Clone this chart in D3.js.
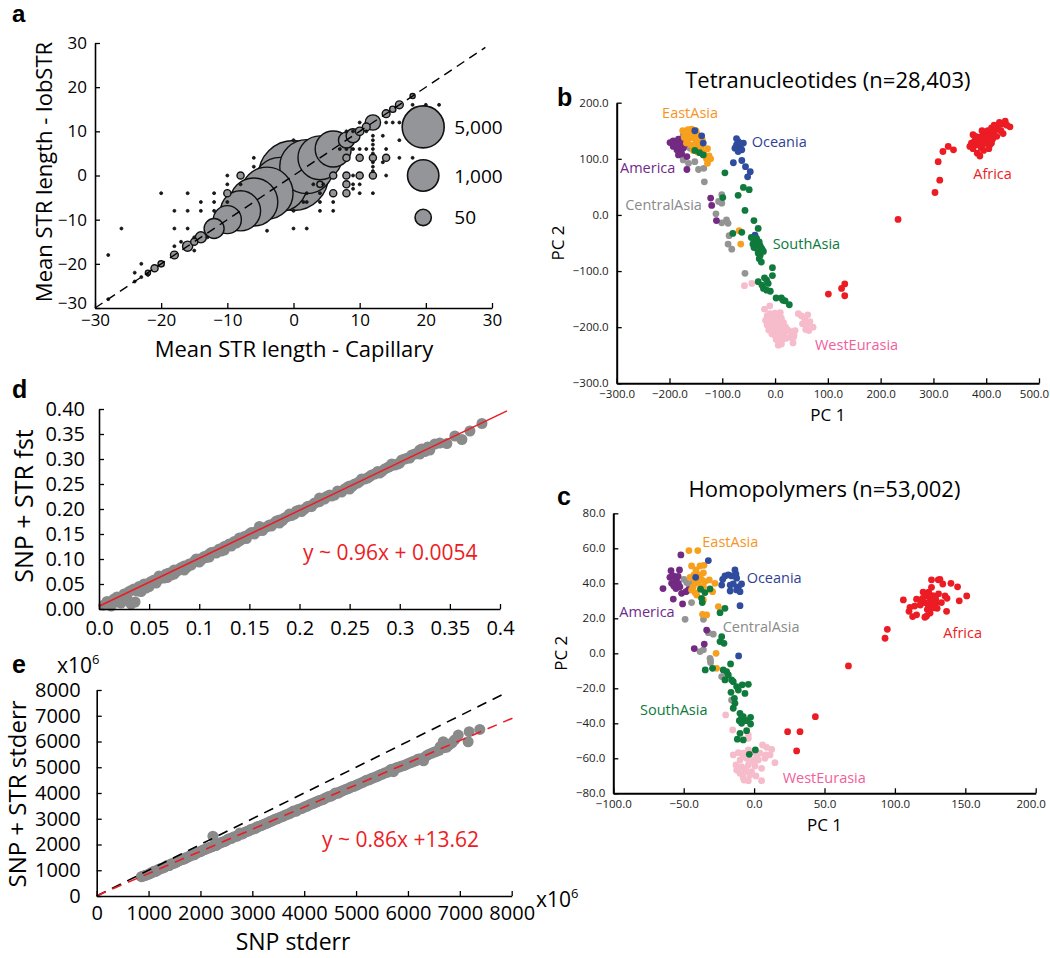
<!DOCTYPE html>
<html><head><meta charset="utf-8">
<script src="https://cdn.jsdelivr.net/npm/d3@7"></script>
<style>body{margin:0;background:#fff}svg{display:block}</style>
</head><body><svg id="chart" width="1050" height="958"></svg>
<script>
// ---------------- DATA ----------------
// Panel a: [capillary mean, lobSTR mean, count]
const aDiagonal = [[-28,-28,1],[-24,-24,1],[-23,-23,1],[-22,-22,2],[-21,-21,4],[-20,-20,3],[-18,-18,5],[-16,-16,10],[-15,-15,4],[-14,-14,13],[-12,-12,117],[-10,-10,560],[-8,-8,3800],[-6,-6,11000],[-4,-4,17900],[-2,-2,22500],[0,0,118000],[2,2,22500],[4,4,6500],[6,6,2100],[8,8,47],[9,9,28],[10,10,6],[11,11,5],[12,12,40],[14,14,5],[15,15,3],[16,16,5],[18,18,2]];
const aSmall = [[-10,-4,4],[-8,0,4],[6,0,4],[6,-4,4],[8,0,4],[8,4,4],[8,-2,4],[8,-4,4],[10,4,4],[10,0,4],[12,0,4],[12,4,4],[14,4,4],[4,-2,3]];
const aDots = [[-28,-18],[-26,-12],[-24,-22],[-20,-4],[-18,-8],[-18,-12],[-18,-16],[-16,-4],[-16,-8],[-16,-12],[-14,-6],[-14,-8],[-12,-4],[-12,-6],[-12,-8],[-10,0],[-10,-2],[-10,-6],[-8,-2],[-6,4],[-6,2],[-4,-12.5],[0,-12],[2,-12],[0,-8],[2,-4],[2,-6],[4,-6],[4,-8],[6,-8],[6,-6],[4.5,-2],[3,-2],[4,-4],[1.5,-6],[0,8],[7,6],[8,10],[8,6],[9,-2],[9,0],[9,6],[9,-3],[10,-2],[10,-4],[10,6],[11,10],[11,6],[12,-4],[12,9],[12,8],[12,7],[12,6],[12,5],[12,3],[12,2],[12,1],[14,6],[14,12],[14,0],[13.5,3],[13.5,9],[16,12],[16,8],[16,4],[18,16],[18,12],[18,8],[18,4],[20,16],[22,16],[15,12],[10,12],[9,10],[-23,-20],[-22,-22.5],[-17,-15],[-15,-17],[-13,-14],[-15,-14]];
const aTicks = [-30,-20,-10,0,10,20,30];
const aLegend = [5000,1000,50];

// Panel b (Tetranucleotides) PCA points [PC1, PC2]
const bWestEurasia = [[-58,-126],[-44,-122],[-20,-168],[-10,-162],[-15,-180],[-10,-176],[-5,-180],[0,-175],[5,-178],[10,-174],[-18,-188],[-12,-186],[-6,-190],[0,-186],[6,-188],[12,-184],[-15,-196],[-8,-198],[-2,-194],[4,-197],[10,-195],[16,-192],[-12,-205],[-5,-204],[2,-207],[8,-203],[14,-206],[20,-200],[-6,-212],[0,-215],[6,-212],[12,-216],[18,-210],[24,-205],[2,-222],[8,-225],[14,-222],[20,-220],[6,-232],[12,-230],[30,-208],[36,-215],[28,-218],[34,-228],[44,-176],[50,-180],[56,-185],[62,-178],[66,-190],[60,-196],[52,-194],[58,-204],[64,-206],[72,-200],[38,-206],[35,-218]];
const bCentralAsia = [[-174,142],[-167,122],[-174,98],[-164,92],[-152,95],[-145,81],[-135,83],[-134,59],[-101,36],[-107,24],[-101,21],[-112,2],[-101,-14],[-92,-9],[-89,-15],[-87,-37],[-89,-52],[-82,-61],[-57,-104],[-161,119]];
const bAmerica = [[-199,129],[-193,132],[-186,131],[-183,135],[-193,122],[-186,116],[-180,113],[-177,109],[-174,119],[-171,125],[-167,104],[-180,122],[-183,107],[-190,126],[-175,130],[-167,81],[-122,30],[-120,17],[-111,-10]];
const bEastAsia = [[-175,150],[-170,145],[-165,152],[-160,148],[-155,143],[-150,150],[-172,138],[-165,135],[-158,138],[-150,132],[-145,140],[-168,128],[-160,125],[-152,122],[-143,128],[-140,120],[-155,115],[-147,112],[-135,110],[-128,118],[-125,105],[-130,100],[-122,100],[-128,92],[-162,142],[-148,145],[-138,135],[-158,153],[-68,-28],[-65,-52]];
const bOceania = [[-73,136],[-70,131],[-73,125],[-66,122],[-63,116],[-76,119],[-70,113],[-60,128],[-66,128],[-79,93],[-63,97],[-56,86],[-47,77],[-52,68],[-152,150],[-139,141],[-136,128],[-38,-36]];
const bSouthAsia = [[-152,115],[-143,111],[-136,107],[-95,75],[-99,31],[-70,35],[-60,49],[-49,45],[-57,8],[-40,-10],[-32,-24],[-63,-31],[-80,-33],[-45,-40],[-40,-45],[-35,-42],[-30,-48],[-42,-52],[-38,-55],[-33,-50],[-28,-55],[-35,-60],[-30,-63],[-25,-60],[-32,-68],[-28,-72],[-30,-78],[-26,-84],[-22,-65],[-40,-58],[-5,-94],[-5,-108],[-32,-119],[-16,-116],[-13,-122],[-22,-131],[-16,-134],[-9,-136],[-20,-112],[-25,-125],[2,-148],[12,-148],[19,-153],[27,-160],[15,-152]];
const bAfrica = [[233,-8],[303,40],[312,62],[309,95],[318,113],[328,122],[338,116],[101,-141],[126,-131],[132,-123],[132,-144],[369,122],[372,128],[375,118],[378,132],[382,125],[385,138],[388,130],[390,120],[392,140],[394,126],[396,134],[398,145],[400,128],[401,138],[403,150],[405,132],[407,125],[409,142],[410,155],[412,135],[413,147],[415,160],[418,152],[420,140],[422,158],[425,165],[428,150],[430,162],[432,145],[436,167],[439,160],[445,157],[383,110],[388,105],[395,115],[380,140],[375,143],[392,150],[405,118],[410,128]];
const bTicksX = [-300,-200,-100,0,100,200,300,400,500];
const bTicksY = [-300,-200,-100,0,100,200];

// Panel c (Homopolymers) PCA points [PC1, PC2]
const cWestEurasia = [[-20.2,-35.2],[-15.2,-43.8],[-4.1,-46.7],[-4.1,-48.6],[-11.2,-56.8],[-7.7,-57.1],[-4.1,-55.2],[-0.6,-56.2],[4.2,-57.1],[6,-52.4],[8.9,-53.7],[12.5,-54.9],[14.8,-62.5],[11.3,-58.1],[7.7,-60],[3,-61],[-0.6,-61],[-5.3,-60],[-10,-61],[-12.9,-63.8],[-8.9,-64.8],[-4.1,-63.8],[0.6,-64.4],[5.3,-65.7],[-6.5,-67.6],[-1.8,-67.6],[-10,-68.6],[-7.7,-70.9],[-4.1,-72.8],[1.3,-70.1],[5.3,-72.8],[-2.9,-69.5],[-7.2,-72.4],[-12.4,-66.7],[1.8,-58.7],[-14.8,-58.1],[8.4,-58.1],[-8,-59],[-3,-62],[-6,-66]];
const cCentralAsia = [[-49.8,42.3],[-47.9,40.4],[-45,38],[-43.2,41],[-49,19.4],[-44.4,29],[-36,19.4],[-32.5,11.8],[-29,10.9],[-38.4,1],[-36,2],[-31.3,-2.9],[-30.9,-5.3],[-23,-13.3],[-16,-26.7],[-46,39],[-31,-4]];
const cAmerica = [[-52,56.2],[-59,47.2],[-53,47.6],[-59.8,43.4],[-57.4,44.2],[-55,42.9],[-56.2,41],[-58.6,40],[-53.8,40],[-52.7,38],[-55.5,37],[-64.7,37],[-51.5,34.3],[-48.4,35.2],[-57.4,31],[-50.8,28.2],[-46.7,36.2],[-33.7,13.3],[-42.5,2.7],[-35.4,5.3],[-57,38.5],[-54,44]];
const cEastAsia = [[-46.3,58.7],[-40,58.7],[-44.4,49.9],[-41.3,47.6],[-38.4,49.9],[-35.6,50.3],[-42.7,44.8],[-38.9,44.8],[-36,46],[-45.5,43.4],[-37.3,42.3],[-39.6,40],[-43.2,38],[-34.9,41],[-31.8,41.9],[-27.8,40],[-42,34.7],[-29.5,35.2],[-36,30.5],[-25.4,26.7],[-36.6,22.3],[-33.7,21.9],[-27,0],[-26.6,-8.6],[-44.4,36.2],[-40.8,33.3],[-40,43],[-38,37],[-42,41],[-36,38]];
const cOceania = [[-22.3,42.3],[-20.7,44.2],[-18.3,44.8],[-16,44.2],[-13.6,47.6],[-12.9,45.3],[-12.4,42.9],[-23,39],[-17,39],[-14.8,39.6],[-11.2,38],[-8.9,39.6],[-12.4,36.2],[-17,35.6],[-10,35.2],[-10,27.2],[-32.5,53],[-41.5,43.4],[-11,-1.5]];
const cSouthAsia = [[-38,36.6],[-34.9,34.7],[-31.3,36.8],[-37.3,31.4],[-36.8,29],[-24.2,23.2],[-20.7,25.7],[-23,9.5],[-24.2,6.7],[-21.4,5.7],[-34.7,-9.5],[-29.5,-8.6],[-16.7,-6.1],[-21.9,-9.5],[-19.5,-10.5],[-18.3,-12.4],[-20.7,-15.2],[-16,-15.2],[-14.8,-16.2],[-12.4,-19],[-4.1,-17.7],[-8.4,-18],[-16.4,-22.3],[-11.2,-21],[-6.5,-22.9],[-14,-25.7],[-13.6,-28.6],[-14.8,-31.4],[-10,-34.3],[-7.7,-36.2],[-10.5,-38.5],[-2.5,-36.6],[-5.3,-38.5],[-8.9,-40],[-2.5,-40.4],[-10,-45.7],[-5.3,-44.2],[-11.9,-49.1],[-7.7,-49.5],[0.9,-55.2],[-3.4,-57.7],[-9,-37]];
const cAfrica = [[106,30.5],[110,24],[112.6,21],[114,27],[115.4,22],[118,27.6],[119.7,31.4],[121,29],[122.5,32.8],[123,25],[123.7,27.6],[125,30.9],[126,42],[126,37.7],[126.8,29.5],[127,27],[128.5,32.4],[129,28.6],[130,25.7],[130.8,42],[132,42.3],[134,39.6],[135.6,32.8],[136.7,24],[137,31.4],[139.8,40],[144.5,38],[145.7,30],[151,32.8],[115.4,30.9],[118.9,30.5],[122.5,21.3],[124.4,24.8],[121.3,20.6],[110.7,26.3],[127,33],[124,35],[129,31],[131,34],[120,35],[133,29],[128,26],[125,23],[94.6,13.7],[93,8.6],[67,-7.2],[23.8,-44.8],[32.6,-44.8],[43.5,-36.2],[30.2,-55.8]];
const cTicksX = [-100,-50,0,50,100,150,200];
const cTicksY = [-80,-60,-40,-20,0,20,40,60,80];

// Region names, colours and label anchors (PC1, PC2 of label start)
const regions = ["WestEurasia","CentralAsia","America","EastAsia","Oceania","SouthAsia","Africa"];
const pointColors = ["#f6bccb","#949494","#732a83","#f6a01e","#2f4c9e","#107a3c","#ec1c24"];
const labelColors = ["#f0609a","#8a8a8a","#6f2a8a","#f7941d","#2e3f96","#0b7a3c","#ec1c24"];
const bLabelPos = [[75.6,-240.7],[-284,8.7],[-293.7,74],[-214,172.6],[-44.3,121.4],[-4.5,-61.3],[375.4,63.4]];
const cLabelPos = [[20.3,-74.3],[-22.3,12],[-95.7,20.9],[-36.8,60.6],[-5.3,40.3],[-81,-35.3],[134.4,8.6]];

// Panel d: [SNP fst, SNP+STR fst]
const dPoints = [[0.005,0.008],[0.008,0.015],[0.01,0.012],[0.012,0.006],[0.013,0.016],[0.015,0.02],[0.018,0.014],[0.018,0.024],[0.02,0.022],[0.022,0.012],[0.024,0.02],[0.025,0.03],[0.027,0.03],[0.028,0.02],[0.03,0.035],[0.032,0.01],[0.033,0.038],[0.036,0.014],[0.035,0.04],[0.038,0.036],[0.04,0.045],[0.042,0.035],[0.043,0.044],[0.045,0.05],[0.047,0.042],[0.05,0.052],[0.05,0.045],[0.052,0.055],[0.055,0.058],[0.057,0.052],[0.06,0.06],[0.06,0.066],[0.062,0.064],[0.065,0.062],[0.067,0.07],[0.068,0.063],[0.07,0.072],[0.072,0.068],[0.075,0.07],[0.075,0.078],[0.078,0.076],[0.08,0.08],[0.082,0.083],[0.085,0.086],[0.085,0.078],[0.088,0.084],[0.09,0.09],[0.092,0.088],[0.095,0.095],[0.097,0.1],[0.1,0.1],[0.1,0.094],[0.102,0.098],[0.105,0.105],[0.107,0.103],[0.11,0.11],[0.11,0.104],[0.112,0.113],[0.115,0.114],[0.117,0.112],[0.12,0.12],[0.122,0.116],[0.125,0.125],[0.125,0.118],[0.128,0.127],[0.13,0.13],[0.132,0.126],[0.135,0.135],[0.137,0.132],[0.14,0.136],[0.14,0.142],[0.142,0.139],[0.145,0.145],[0.147,0.141],[0.15,0.15],[0.152,0.153],[0.155,0.15],[0.157,0.155],[0.16,0.158],[0.16,0.165],[0.163,0.157],[0.165,0.162],[0.168,0.165],[0.17,0.168],[0.172,0.166],[0.175,0.172],[0.177,0.176],[0.18,0.178],[0.18,0.172],[0.183,0.177],[0.185,0.182],[0.188,0.185],[0.19,0.19],[0.192,0.187],[0.195,0.19],[0.197,0.196],[0.2,0.198],[0.202,0.195],[0.205,0.2],[0.208,0.205],[0.21,0.206],[0.212,0.205],[0.215,0.212],[0.218,0.214],[0.22,0.215],[0.22,0.222],[0.225,0.22],[0.227,0.225],[0.23,0.228],[0.232,0.226],[0.235,0.228],[0.238,0.236],[0.24,0.235],[0.242,0.234],[0.245,0.24],[0.248,0.244],[0.25,0.246],[0.25,0.24],[0.253,0.246],[0.255,0.25],[0.258,0.252],[0.26,0.255],[0.262,0.26],[0.265,0.26],[0.268,0.262],[0.27,0.265],[0.272,0.268],[0.275,0.27],[0.278,0.275],[0.28,0.272],[0.282,0.275],[0.285,0.28],[0.288,0.283],[0.29,0.285],[0.292,0.29],[0.295,0.288],[0.298,0.29],[0.3,0.292],[0.302,0.298],[0.305,0.3],[0.308,0.302],[0.31,0.302],[0.312,0.308],[0.315,0.31],[0.318,0.312],[0.32,0.31],[0.32,0.318],[0.322,0.32],[0.325,0.315],[0.328,0.324],[0.33,0.318],[0.335,0.33],[0.34,0.332],[0.347,0.331],[0.355,0.346],[0.362,0.339],[0.37,0.356],[0.382,0.371]];
const dFit = [0.96, 0.0054];
const dTicksX = [0,0.05,0.1,0.15,0.2,0.25,0.3,0.35,0.4];
const dTickLabelsX = ["0.0","0.05","0.1","0.15","0.2","0.25","0.3","0.35","0.4"];
const dTicksY = [0,0.05,0.1,0.15,0.2,0.25,0.3,0.35,0.4];

// Panel e: [SNP stderr, SNP+STR stderr] (x10^6)
const ePoints = [[860,750],[890,770],[920,790],[950,810],[980,830],[1020,860],[1050,900],[1080,920],[1100,960],[1130,950],[1150,980],[1180,1010],[1200,1040],[1230,1060],[1260,1080],[1290,1100],[1320,1130],[1350,1170],[1380,1190],[1400,1180],[1410,1210],[1440,1250],[1470,1260],[1500,1280],[1530,1310],[1560,1350],[1590,1370],[1620,1400],[1650,1420],[1680,1430],[1700,1480],[1710,1460],[1740,1500],[1770,1520],[1800,1560],[1830,1580],[1850,1640],[1880,1600],[1900,1640],[1930,1680],[1960,1700],[1990,1720],[2020,1740],[2050,1790],[2080,1800],[2110,1830],[2140,1850],[2170,1880],[2200,1900],[2230,1920],[2240,2320],[2260,1960],[2290,1990],[2300,1960],[2320,2000],[2350,2020],[2380,2060],[2410,2090],[2440,2100],[2470,2120],[2500,2160],[2530,2200],[2560,2220],[2590,2230],[2620,2270],[2650,2300],[2700,2320],[2730,2360],[2760,2450],[2790,2400],[2820,2420],[2850,2470],[2880,2500],[2910,2510],[2940,2540],[2970,2580],[3000,2600],[3030,2610],[3060,2630],[3090,2680],[3120,2700],[3150,2720],[3180,2740],[3210,2770],[3240,2800],[3270,2820],[3300,2840],[3330,2880],[3360,2900],[3390,2930],[3420,2960],[3450,2990],[3480,3000],[3510,3030],[3540,3060],[3570,3080],[3600,3100],[3630,3140],[3660,3160],[3690,3180],[3720,3200],[3750,3240],[3790,3300],[3820,3290],[3850,3300],[3880,3360],[3920,3380],[3950,3400],[3980,3420],[4010,3470],[4050,3480],[4080,3520],[4120,3560],[4150,3580],[4180,3600],[4210,3640],[4250,3660],[4280,3700],[4320,3720],[4350,3740],[4380,3760],[4410,3810],[4450,3840],[4480,3860],[4520,3880],[4560,3930],[4600,4000],[4630,3990],[4660,4000],[4690,4050],[4720,4060],[4760,4110],[4800,4140],[4830,4160],[4860,4180],[4900,4230],[4940,4250],[4970,4270],[5000,4300],[5040,4340],[5080,4370],[5110,4400],[5140,4420],[5170,4460],[5200,4500],[5230,4500],[5260,4520],[5290,4560],[5320,4580],[5360,4610],[5400,4640],[5430,4670],[5460,4700],[5490,4730],[5520,4740],[5560,4790],[5600,4800],[5630,4840],[5660,4900],[5690,4920],[5720,4830],[5750,4950],[5780,4980],[5810,5000],[5850,5020],[5880,5050],[5920,5060],[5960,5100],[6000,5140],[6040,5170],[6080,5200],[6110,5230],[6150,5250],[6180,5290],[6200,5320],[6250,5330],[6300,5350],[6300,5250],[6330,5400],[6360,5450],[6400,5500],[6450,5540],[6500,5580],[6550,5620],[6600,5660],[6620,5800],[6680,5990],[6700,5760],[6750,5780],[6800,5880],[6850,5950],[6900,6060],[6970,6250],[7160,5990],[7180,6380],[7385,6470]];
const eFit = [0.86, 13.62];
const eTicks = [0,1000,2000,3000,4000,5000,6000,7000,8000];

// ---------------- DRAW ----------------
const F = '"Open Sans", "Noto Sans", sans-serif';
const FB = '"Liberation Sans", Arial, sans-serif';
const svg = d3.select("#chart");

function styleAxis(g, fs, col) {
  g.select("path.domain").attr("stroke", "#000").attr("stroke-width", 1.6);
  g.selectAll(".tick line").attr("stroke", "#000").attr("stroke-width", 1.3);
  g.selectAll(".tick text").attr("font-family", F).attr("font-size", fs).attr("fill", col || "#000");
}
function txt(x, y, s, fs, opts = {}) {
  const t = svg.append("text").attr("x", x).attr("y", y).text(s)
    .attr("font-family", opts.bold ? FB : F).attr("font-size", fs)
    .attr("font-weight", opts.bold ? "bold" : "normal")
    .attr("fill", opts.color || "#000").attr("text-anchor", opts.anchor || "start");
  if (opts.rotate) t.attr("transform", `rotate(-90,${x},${y})`);
  return t;
}

// ===== Panel a =====
const xA = d3.scaleLinear().domain([-30, 30]).range([95, 492]);
const yA = d3.scaleLinear().domain([-30, 30]).range([308, 43]);
const rA = d3.scalePow().exponent(0.12).domain([1, 5000]).range([1.6, 21]);
const gA = svg.append("g");
const allA = aDiagonal.concat(aSmall).concat(aDots.map(d => [d[0], d[1], 1]))
  .sort((p, q) => q[2] - p[2]);
gA.selectAll("circle.b").data(allA).join("circle")
  .attr("cx", d => xA(d[0])).attr("cy", d => yA(d[1])).attr("r", d => d[2] > 1 ? rA(d[2]) : 1.5)
  .attr("fill", d => d[2] > 1 ? "#939598" : "#1a1a1a").attr("stroke", "#111")
  .attr("stroke-width", d => d[2] > 1 ? 1.4 : 0.8);
gA.append("line").attr("x1", xA(-30)).attr("y1", yA(-30)).attr("x2", xA(29)).attr("y2", yA(29))
  .attr("stroke", "#000").attr("stroke-width", 1.4).attr("stroke-dasharray", "9,6");
const axAx = svg.append("g").attr("transform", `translate(0,${yA(-30)})`)
  .call(d3.axisBottom(xA).tickValues(aTicks).tickSizeInner(-5).tickSizeOuter(0).tickPadding(6));
styleAxis(axAx, 17);
const axAy = svg.append("g").attr("transform", `translate(${xA(-30)},0)`)
  .call(d3.axisLeft(yA).tickValues(aTicks).tickSizeInner(-5).tickSizeOuter(0).tickPadding(8));
styleAxis(axAy, 17);
// lift the bottom y label slightly so it does not collide with the x label at the corner
axAy.selectAll(".tick text").filter(d => d === -30).attr("dy", "0.05em");
// legend
const legY = [11, 0, -9.5];
aLegend.forEach((n, i) => {
  const cx = xA(19.6), cy = yA(legY[i]);
  svg.append("circle").attr("cx", cx).attr("cy", cy).attr("r", rA(n))
    .attr("fill", "#939598").attr("stroke", "#111").attr("stroke-width", 1.6);
  txt(xA(24.3), cy + 7, d3.format(",")(n), 19);
});
txt(294, 357, "Mean STR length - Capillary", 22, { anchor: "middle" });
txt(52, 172, "Mean STR length - lobSTR", 22, { anchor: "middle", rotate: true });
txt(12, 22, "a", 24, { bold: true });

// ===== PCA panels =====
function pcaPanel(opt) {
  const { x, y, data, ticksX, ticksY, labels, title, titleY, letterY, pc2 } = opt;
  const g = svg.append("g");
  const axX = svg.append("g").attr("transform", `translate(0,${y.range()[0]})`)
    .call(d3.axisBottom(x).tickValues(ticksX).tickFormat(d3.format(".1f")).tickSizeInner(-5).tickSizeOuter(0).tickPadding(7));
  styleAxis(axX, 11.5, "#222");
  axX.select("path.domain").attr("stroke-width", 2);
  axX.selectAll(".tick text").filter((d, i, n) => i === n.length - 1).attr("dx", -5);
  const axY = svg.append("g").attr("transform", `translate(${x.range()[0]},0)`)
    .call(d3.axisLeft(y).tickValues(ticksY).tickFormat(d3.format(".1f")).tickSizeInner(-5).tickSizeOuter(0).tickPadding(8));
  styleAxis(axY, 11.5, "#222");
  axY.select("path.domain").attr("stroke-width", 2);
  data.forEach((pts, i) => {
    g.selectAll(null).data(pts).join("circle")
      .attr("cx", d => x(d[0])).attr("cy", d => y(d[1])).attr("r", 3.4)
      .attr("fill", pointColors[i]);
  });
  regions.forEach((r, i) => {
    txt(x(labels[i][0]), y(labels[i][1]), r, 14.5, { color: labelColors[i] });
  });
  const cx = (x.range()[0] + x.range()[1]) / 2, cy = (y.range()[0] + y.range()[1]) / 2;
  txt(cx, y.range()[0] + 38, "PC 1", 17, { anchor: "middle" });
  txt(x.range()[0] - pc2, cy, "PC 2", 17, { anchor: "middle", rotate: true });
  txt(cx, titleY, title, 22, { anchor: "middle" });
  txt(557, letterY, opt.letter, 25, { bold: true });
}
pcaPanel({
  x: d3.scaleLinear().domain([-300, 500]).range([616.7, 1039]),
  y: d3.scaleLinear().domain([-300, 200]).range([383.3, 102.7]),
  data: [bWestEurasia, bCentralAsia, bAmerica, bEastAsia, bOceania, bSouthAsia, bAfrica],
  ticksX: bTicksX, ticksY: bTicksY, labels: bLabelPos, pc2: 53,
  title: "Tetranucleotides (n=28,403)", titleY: 88, letter: "b", letterY: 106
});
pcaPanel({
  x: d3.scaleLinear().domain([-100, 200]).range([613.3, 1035.7]),
  y: d3.scaleLinear().domain([-80, 80]).range([793.3, 513.3]),
  data: [cWestEurasia, cCentralAsia, cAmerica, cEastAsia, cOceania, cSouthAsia, cAfrica],
  ticksX: cTicksX, ticksY: cTicksY, labels: cLabelPos, pc2: 46,
  title: "Homopolymers (n=53,002)", titleY: 497, letter: "c", letterY: 505
});

// ===== Panel d =====
const xD = d3.scaleLinear().domain([0, 0.4]).range([99, 500]);
const yD = d3.scaleLinear().domain([0, 0.4]).range([609, 409]);
svg.append("g").selectAll("circle").data(dPoints).join("circle")
  .attr("cx", d => xD(d[0])).attr("cy", d => yD(d[1])).attr("r", 5.5).attr("fill", "#8a8a8a");
svg.append("line").attr("x1", xD(0)).attr("y1", yD(dFit[1]))
  .attr("x2", xD(0.407)).attr("y2", yD(dFit[0] * 0.407 + dFit[1]))
  .attr("stroke", "#ec1c24").attr("stroke-width", 1.5);
const axDx = svg.append("g").attr("transform", `translate(0,${yD(0)})`)
  .call(d3.axisBottom(xD).tickValues(dTicksX).tickFormat((d, i) => dTickLabelsX[i]).tickSizeInner(-5).tickSizeOuter(0).tickPadding(12));
styleAxis(axDx, 20);
const axDy = svg.append("g").attr("transform", `translate(${xD(0)},0)`)
  .call(d3.axisLeft(yD).tickValues(dTicksY).tickFormat(d3.format(".2f")).tickSizeInner(-5).tickSizeOuter(0).tickPadding(14));
styleAxis(axDy, 20);
txt(303, 560, "y ~ 0.96x + 0.0054", 21, { color: "#ec1c24" });
txt(33, 506, "SNP + STR fst", 25, { anchor: "middle", rotate: true });
txt(12, 398, "d", 25, { bold: true });

// ===== Panel e =====
const xE = d3.scaleLinear().domain([0, 8000]).range([96.7, 511.7]);
const yE = d3.scaleLinear().domain([0, 8000]).range([896, 690]);
svg.append("g").selectAll("circle").data(ePoints).join("circle")
  .attr("cx", d => xE(d[0])).attr("cy", d => yE(d[1])).attr("r", 5.5).attr("fill", "#8a8a8a");
svg.append("line").attr("x1", xE(0)).attr("y1", yE(0)).attr("x2", xE(7900)).attr("y2", yE(7900))
  .attr("stroke", "#000").attr("stroke-width", 1.6).attr("stroke-dasharray", "10,7");
svg.append("line").attr("x1", xE(0)).attr("y1", yE(eFit[1]))
  .attr("x2", xE(8050)).attr("y2", yE(eFit[0] * 8050 + eFit[1]))
  .attr("stroke", "#ec1c24").attr("stroke-width", 1.6).attr("stroke-dasharray", "10,7");
const axEx = svg.append("g").attr("transform", `translate(0,${yE(0)})`)
  .call(d3.axisBottom(xE).tickValues(eTicks).tickFormat(d3.format("d")).tickSizeInner(-5).tickSizeOuter(0).tickPadding(10));
styleAxis(axEx, 20);
const axEy = svg.append("g").attr("transform", `translate(${xE(0)},0)`)
  .call(d3.axisLeft(yE).tickValues(eTicks).tickFormat(d3.format("d")).tickSizeInner(-5).tickSizeOuter(0).tickPadding(16));
styleAxis(axEy, 20);
txt(322, 847, "y ~ 0.86x +13.62", 21, { color: "#ec1c24" });
txt(26, 794, "SNP + STR stderr", 24, { anchor: "middle", rotate: true });
txt(293, 950, "SNP stderr", 23, { anchor: "middle" });
txt(12, 673, "e", 25, { bold: true });
function sci(x, y) {
  const t = txt(x, y, "x10", 21);
  t.append("tspan").attr("font-size", 13).attr("dy", -9).text("6");
}
sci(57, 673);
sci(536, 907);
</script></body></html>
